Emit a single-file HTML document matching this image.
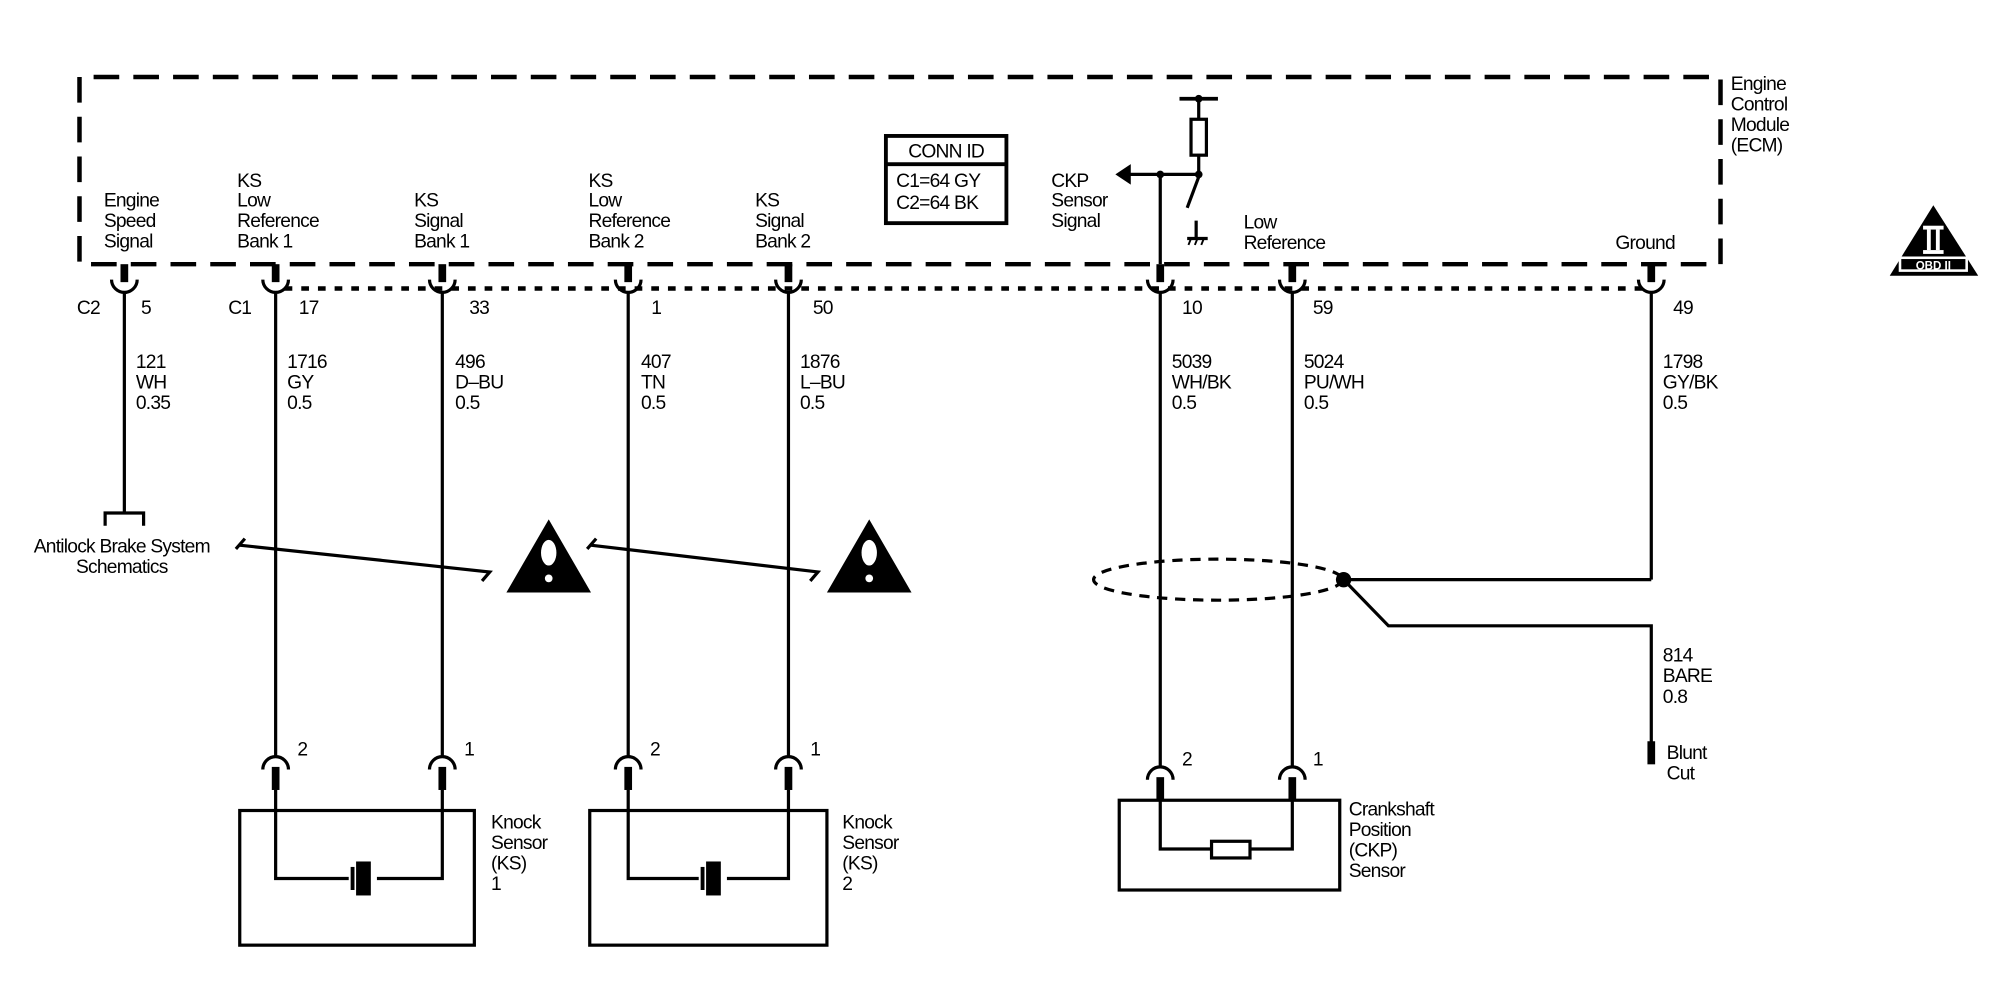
<!DOCTYPE html>
<html><head><style>
html,body{margin:0;padding:0;background:#fff;}
svg{display:block;}
text{font-family:"Liberation Sans",sans-serif;font-size:15px;fill:#000;letter-spacing:-0.6px;}
</style></head><body>
<svg width="2000" height="1008" viewBox="0 0 1560 786" preserveAspectRatio="none" xmlns="http://www.w3.org/2000/svg">
<g stroke="#000" fill="none" stroke-width="3">
<!-- ECM box -->
<path d="M62 80 V60 H1342 V206 H62 V80" stroke-dasharray="20 11" stroke-width="3.5"/>
<!-- dotted connector line -->
<line x1="222" y1="225" x2="1282" y2="225" stroke-dasharray="6 7" stroke-width="3.5"/>
<!-- CONN ID -->
<rect x="691" y="106" width="94" height="68" stroke-width="3"/>
<line x1="691" y1="128" x2="785" y2="128"/>
</g>
<g stroke="#000" fill="none" stroke-width="2.5">
<!-- pins top connectors -->
<g id="pins">
<path d="M97 206 V220" stroke-width="6"/><path d="M87 218 A10 10 0 0 0 107 218"/><line x1="97" y1="228" x2="97" y2="400"/>
<path d="M215 206 V220" stroke-width="6"/><path d="M205 218 A10 10 0 0 0 225 218"/><line x1="215" y1="228" x2="215" y2="590"/>
<path d="M345 206 V220" stroke-width="6"/><path d="M335 218 A10 10 0 0 0 355 218"/><line x1="345" y1="228" x2="345" y2="590"/>
<path d="M490 206 V220" stroke-width="6"/><path d="M480 218 A10 10 0 0 0 500 218"/><line x1="490" y1="228" x2="490" y2="590"/>
<path d="M615 206 V220" stroke-width="6"/><path d="M605 218 A10 10 0 0 0 625 218"/><line x1="615" y1="228" x2="615" y2="590"/>
<path d="M905 206 V220" stroke-width="6"/><path d="M895 218 A10 10 0 0 0 915 218"/><line x1="905" y1="228" x2="905" y2="598"/>
<path d="M1008 206 V220" stroke-width="6"/><path d="M998 218 A10 10 0 0 0 1018 218"/><line x1="1008" y1="228" x2="1008" y2="598"/>
<path d="M1288 206 V220" stroke-width="6"/><path d="M1278 218 A10 10 0 0 0 1298 218"/><line x1="1288" y1="228" x2="1288" y2="452"/>
</g>
<!-- ABS bracket -->
<path d="M82 410 V400 H112 V410"/>
<!-- break lines -->
<path d="M184 428 L191 420 M186 425 L382 446 L376 453"/>
<path d="M458 428 L465 420 M460 425 L638 446 L632 453"/>
<!-- bottom connectors -->
<path d="M205 600 A10 10 0 0 1 225 600"/><path d="M215 598 V616" stroke-width="6"/>
<path d="M335 600 A10 10 0 0 1 355 600"/><path d="M345 598 V616" stroke-width="6"/>
<path d="M480 600 A10 10 0 0 1 500 600"/><path d="M490 598 V616" stroke-width="6"/>
<path d="M605 600 A10 10 0 0 1 625 600"/><path d="M615 598 V616" stroke-width="6"/>
<path d="M895 608 A10 10 0 0 1 915 608"/><path d="M905 606 V624" stroke-width="6"/>
<path d="M998 608 A10 10 0 0 1 1018 608"/><path d="M1008 606 V624" stroke-width="6"/>
<!-- KS1 -->
<rect x="187" y="632" width="183" height="105"/>
<path d="M215 616 V685 H272 M294 685 H345 V616"/>
<line x1="275" y1="676" x2="275" y2="694" stroke-width="3"/>
<rect x="279" y="673" width="9" height="24" fill="#000"/>
<!-- KS2 -->
<rect x="460" y="632" width="185" height="105"/>
<path d="M490 616 V685 H545 M567 685 H615 V616"/>
<line x1="548" y1="676" x2="548" y2="694" stroke-width="3"/>
<rect x="552" y="673" width="9" height="24" fill="#000"/>
<!-- CKP sensor -->
<rect x="873" y="624" width="172" height="70"/>
<path d="M905 624 V662 H945 M975 662 H1008 V624"/>
<rect x="945" y="656" width="30" height="13"/>
<!-- shield -->
<ellipse cx="950" cy="452" rx="97" ry="16" stroke-dasharray="8 6"/>
<path d="M1048 452 H1288"/>
<path d="M1048 452 L1083 488 H1288 V580"/>
<path d="M1288 578 V596" stroke-width="6"/>
<!-- CKP internal -->
<path d="M905 206 V136 M935 136 H880"/>
<path d="M935 78 V93 M935 120 V136"/>
<line x1="920" y1="77" x2="950" y2="77" stroke-width="3"/>
<rect x="929" y="93" width="12" height="28"/>
<path d="M935 138 L926 162"/>
<path d="M933 172 V185 M926 186 H942"/>
<path d="M929 186 l-2 5 M934 186 l-2 5 M939 186 l-2 5" stroke-width="1.5"/>
</g>
<polygon points="870,136 882,128 882,144" fill="#000"/>
<circle cx="905" cy="136" r="3" fill="#000"/>
<circle cx="935" cy="136" r="3" fill="#000"/>
<circle cx="935" cy="77" r="3" fill="#000"/>
<circle cx="1048" cy="452" r="6" fill="#000"/>
<!-- warning triangles -->
<polygon points="428,405 395,462 461,462" fill="#000"/>
<ellipse cx="428" cy="431" rx="6" ry="10" fill="#fff"/><circle cx="428" cy="451" r="3" fill="#fff"/>
<polygon points="678,405 645,462 711,462" fill="#000"/>
<ellipse cx="678" cy="431" rx="6" ry="10" fill="#fff"/><circle cx="678" cy="451" r="3" fill="#fff"/>
<!-- OBD II -->
<polygon points="1508,160 1474,215 1543,215" fill="#000"/>
<rect x="1500" y="176" width="16" height="3" fill="#fff"/><rect x="1500" y="195" width="16" height="3" fill="#fff"/>
<rect x="1503" y="179" width="3" height="16" fill="#fff"/><rect x="1510" y="179" width="3" height="16" fill="#fff"/>
<rect x="1481" y="200" width="54" height="12" fill="#fff"/>
<rect x="1483" y="202" width="50" height="8" fill="#000"/>
<text x="1508" y="210" text-anchor="middle" style="font-size:9px;font-weight:bold;fill:#fff;letter-spacing:0">OBD II</text>
<!-- texts -->
<text x="738" y="123" text-anchor="middle">CONN ID</text>
<text x="699" y="146">C1=64 GY</text>
<text x="699" y="163">C2=64 BK</text>
<text x="81" y="161">Engine</text><text x="81" y="177">Speed</text><text x="81" y="193">Signal</text>
<text x="185" y="146">KS</text><text x="185" y="161">Low</text><text x="185" y="177">Reference</text><text x="185" y="193">Bank 1</text>
<text x="323" y="161">KS</text><text x="323" y="177">Signal</text><text x="323" y="193">Bank 1</text>
<text x="459" y="146">KS</text><text x="459" y="161">Low</text><text x="459" y="177">Reference</text><text x="459" y="193">Bank 2</text>
<text x="589" y="161">KS</text><text x="589" y="177">Signal</text><text x="589" y="193">Bank 2</text>
<text x="820" y="146">CKP</text><text x="820" y="161">Sensor</text><text x="820" y="177">Signal</text>
<text x="970" y="178">Low</text><text x="970" y="194">Reference</text>
<text x="1260" y="194">Ground</text>
<text x="1350" y="70">Engine</text><text x="1350" y="86">Control</text><text x="1350" y="102">Module</text><text x="1350" y="118">(ECM)</text>
<text x="60" y="245">C2</text><text x="110" y="245">5</text>
<text x="178" y="245">C1</text><text x="233" y="245">17</text>
<text x="366" y="245">33</text><text x="508" y="245">1</text><text x="634" y="245">50</text>
<text x="922" y="245">10</text><text x="1024" y="245">59</text><text x="1305" y="245">49</text>
<text x="106" y="287">121</text><text x="106" y="303">WH</text><text x="106" y="319">0.35</text>
<text x="224" y="287">1716</text><text x="224" y="303">GY</text><text x="224" y="319">0.5</text>
<text x="355" y="287">496</text><text x="355" y="303">D–BU</text><text x="355" y="319">0.5</text>
<text x="500" y="287">407</text><text x="500" y="303">TN</text><text x="500" y="319">0.5</text>
<text x="624" y="287">1876</text><text x="624" y="303">L–BU</text><text x="624" y="319">0.5</text>
<text x="914" y="287">5039</text><text x="914" y="303">WH/BK</text><text x="914" y="319">0.5</text>
<text x="1017" y="287">5024</text><text x="1017" y="303">PU/WH</text><text x="1017" y="319">0.5</text>
<text x="1297" y="287">1798</text><text x="1297" y="303">GY/BK</text><text x="1297" y="319">0.5</text>
<text x="95" y="431" text-anchor="middle">Antilock Brake System</text>
<text x="95" y="447" text-anchor="middle">Schematics</text>
<text x="232" y="589">2</text><text x="362" y="589">1</text>
<text x="507" y="589">2</text><text x="632" y="589">1</text>
<text x="922" y="597">2</text><text x="1024" y="597">1</text>
<text x="383" y="646">Knock</text><text x="383" y="662">Sensor</text><text x="383" y="678">(KS)</text><text x="383" y="694">1</text>
<text x="657" y="646">Knock</text><text x="657" y="662">Sensor</text><text x="657" y="678">(KS)</text><text x="657" y="694">2</text>
<text x="1052" y="636">Crankshaft</text><text x="1052" y="652">Position</text><text x="1052" y="668">(CKP)</text><text x="1052" y="684">Sensor</text>
<text x="1297" y="516">814</text><text x="1297" y="532">BARE</text><text x="1297" y="548">0.8</text>
<text x="1300" y="592">Blunt</text><text x="1300" y="608">Cut</text>
</svg>
</body></html>
